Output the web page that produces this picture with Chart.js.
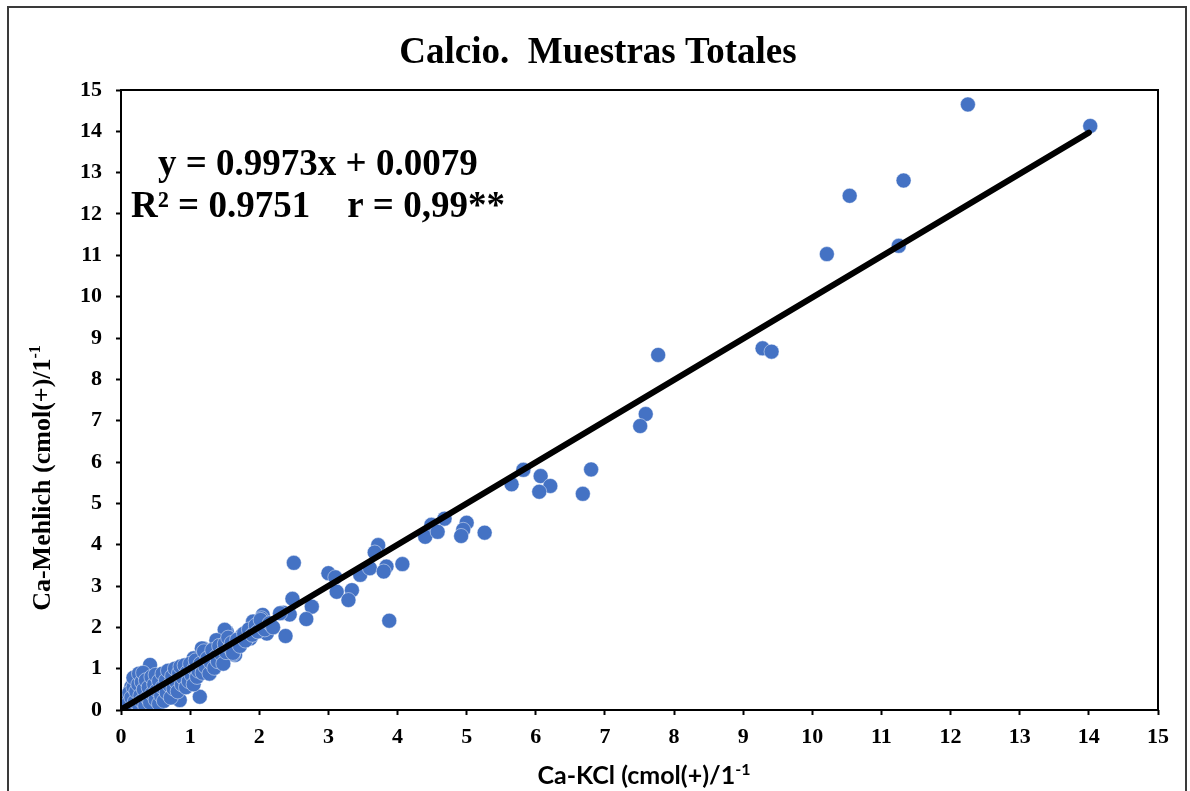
<!DOCTYPE html>
<html>
<head>
<meta charset="utf-8">
<title>Calcio. Muestras Totales</title>
<script src="https://cdn.jsdelivr.net/npm/chart.js@4.4.1/dist/chart.umd.min.js"></script>
<style>
    html, body { margin: 0; padding: 0; background: #ffffff; }
    #chart { display: block; }
</style>
</head>
<body>
<canvas id="chart" width="1190" height="791"></canvas>
<script>
// ====================================
// DATA
// ====================================

// Ca-KCl, cmol(+)/l  (x)
const kclValues = [
    // large values
    12.25, 14.02, 11.32, 10.54, 10.21, 11.25, 9.28, 9.41, 7.77, 7.59, 7.51,
    6.80, 6.68, 5.82, 5.65, 6.07, 6.21, 6.05,
    4.68, 4.49, 4.40, 4.58, 5.00, 4.95, 4.92, 5.26,
    2.50, 3.72, 3.67, 3.00, 3.10, 3.12, 3.34, 3.29, 3.46, 3.60, 3.84, 3.80, 4.07, 3.88,
    2.48, 2.76, 2.68, 2.35, 2.44, 2.30, 2.05, 2.11, 2.38, 2.03, 1.91, 1.87, 1.84, 1.75,
    1.53, 1.50, 1.46, 1.38, 1.65, 1.62, 1.19, 1.17, 1.05, 0.42, 1.14, 0.85,
    // dense cluster near the origin
    0.03, 0.25, 0.15, 0.05, 0.08, 0.10, 0.12, 0.15, 0.18, 0.18, 0.20, 0.22, 0.25, 0.26,
    0.26, 0.28, 0.30, 0.30, 0.32, 0.33, 0.35, 0.36, 0.38, 0.40, 0.42, 0.44, 0.45, 0.48,
    0.50, 0.50, 0.52, 0.55, 0.55, 0.58, 0.60, 0.60, 0.62, 0.65, 0.66, 0.68, 0.70, 0.72,
    0.74, 0.76, 0.78, 0.80, 0.82, 0.84, 0.86, 0.88, 0.90, 0.92, 0.94, 0.96, 0.98, 1.00,
    1.02, 1.05, 1.06, 1.08, 1.10, 1.12, 1.15, 1.18, 1.20, 1.22, 1.25, 1.28, 1.30, 1.32,
    1.35, 1.38, 1.40, 1.42, 1.45, 1.48, 1.50, 1.52, 1.55, 1.58, 1.60, 1.62, 1.68, 1.72,
    1.78, 1.80, 1.85, 1.90, 1.95, 1.98, 2.02, 2.08, 2.15, 2.20
];

// Ca-Mehlich, cmol(+)/l  (y)
const mehlichValues = [
    14.65, 14.13, 12.81, 12.44, 11.03, 11.23, 8.75, 8.67, 8.59, 7.16, 6.87,
    5.82, 5.23, 5.81, 5.46, 5.66, 5.42, 5.28,
    4.63, 4.48, 4.19, 4.31, 4.53, 4.36, 4.21, 4.29,
    3.56, 3.99, 3.81, 3.31, 3.21, 2.86, 2.90, 2.66, 3.27, 3.43, 3.47, 3.35, 3.53, 2.16,
    2.69, 2.50, 2.20, 2.35, 2.31, 2.34, 2.30, 1.85, 1.79, 2.22, 2.14, 1.73, 1.77, 1.81,
    1.89, 1.94, 1.65, 1.69, 1.33, 1.35, 1.49, 1.49, 1.25, 1.09, 0.32, 0.24,
    0.20, 0.77, 0.56, 0.10, 0.28, 0.15, 0.42, 0.30, 0.55, 0.78, 0.20, 0.45, 0.62, 0.12,
    0.88, 0.35, 0.68, 0.22, 0.90, 0.50, 0.10, 0.72, 0.30, 0.55, 0.18, 0.80, 0.40, 0.62,
    0.25, 0.85, 0.48, 0.15, 0.70, 0.35, 0.88, 0.55, 0.22, 0.72, 0.42, 0.95, 0.60, 0.30,
    0.82, 0.52, 1.00, 0.68, 0.45, 0.90, 1.05, 0.62, 0.78, 1.08, 0.55, 0.92, 0.70, 1.12,
    0.85, 0.62, 1.00, 1.20, 0.80, 0.95, 1.12, 0.90, 1.42, 1.05, 1.25, 0.88, 1.15, 1.45,
    1.02, 1.30, 1.18, 1.55, 1.35, 1.12, 1.60, 1.40, 1.75, 1.50, 1.62, 1.38, 1.70, 1.55,
    1.85, 1.68, 1.95, 1.82, 2.05, 1.90, 2.18, 1.95, 2.10, 2.00
];

// Linear trend line y = 0.9973x + 0.0079, end points as drawn
const trendX = [0.0, 14.0];
const trendY = [0.01, 13.97];

// Axis range and labels
const axisMin = 0;
const axisMax = 15;
const chartTitle = 'Calcio.  Muestras Totales';
const equationLine = 'y = 0.9973x + 0.0079';
const statsLine = 'R\u00B2 = 0.9751    r = 0,99**';
const xTitle = ['Ca-KCl (cmol(+)/1', '-1'];
const yTitle = ['Ca-Mehlich (cmol(+)/1', '-1'];

const SERIF = '"Liberation Serif", "Times New Roman", serif';
const SANS = 'Lato, "Open Sans", sans-serif';

// ====================================
// HELPERS
// ====================================

// Draw text with a small raised suffix, centred on x
function drawSupText(ctx, parts, x, y, size, family) {
    const supSize = Math.round(size * 0.62);
    ctx.font = 'bold ' + size + 'px ' + family;
    const w1 = ctx.measureText(parts[0]).width;
    ctx.font = 'bold ' + supSize + 'px ' + family;
    const w2 = ctx.measureText(parts[1]).width;
    const start = x - (w1 + w2) / 2;
    ctx.textAlign = 'left';
    ctx.textBaseline = 'alphabetic';
    ctx.font = 'bold ' + size + 'px ' + family;
    ctx.fillText(parts[0], start, y);
    ctx.font = 'bold ' + supSize + 'px ' + family;
    ctx.fillText(parts[1], start + w1, y - size * 0.38);
}

// Frame, plot box, title, equation and axis titles
const decorPlugin = {
    id: 'decor',
    afterDraw(chart) {
        const ctx = chart.ctx;
        const area = chart.chartArea;
        ctx.save();

        // outer frame
        ctx.strokeStyle = '#3a3a3a';
        ctx.lineWidth = 2;
        ctx.strokeRect(8, 7, 1178, 900);

        // plot area box
        ctx.strokeStyle = '#000000';
        ctx.lineWidth = 2;
        ctx.strokeRect(area.left, area.top, area.right - area.left, area.bottom - area.top);

        ctx.fillStyle = '#000000';

        // title
        ctx.font = 'bold 37px ' + SERIF;
        ctx.textAlign = 'center';
        ctx.textBaseline = 'alphabetic';
        ctx.fillText(chartTitle, 598, 63);

        // regression text
        ctx.font = 'bold 37px ' + SERIF;
        ctx.textAlign = 'left';
        ctx.fillText(equationLine, 158, 175);
        ctx.fillText(statsLine, 131, 217);

        // x axis title
        drawSupText(ctx, xTitle, 644, 784, 25, SANS);

        // y axis title (rotated)
        ctx.save();
        ctx.translate(50, 478);
        ctx.rotate(-Math.PI / 2);
        drawSupText(ctx, yTitle, 0, 0, 26, SERIF);
        ctx.restore();

        ctx.restore();
    }
};

// ====================================
// CHART
// ====================================

const scatterPoints = kclValues.map((x, i) => ({ x: x, y: mehlichValues[i] }));
const trendPoints = trendX.map((x, i) => ({ x: x, y: trendY[i] }));

const tickFont = { family: SERIF, size: 22, weight: 'bold' };

new Chart(document.getElementById('chart'), {
    type: 'scatter',
    data: {
        datasets: [
            {
                type: 'line',
                label: 'Lineal',
                data: trendPoints,
                borderColor: '#000000',
                borderWidth: 6,
                borderCapStyle: 'round',
                pointRadius: 0,
                fill: false,
                order: 0
            },
            {
                label: 'Muestras',
                data: scatterPoints,
                backgroundColor: '#4472C4',
                borderColor: 'rgba(255, 255, 255, 0.45)',
                borderWidth: 1,
                pointRadius: 7.5,
                order: 1
            }
        ]
    },
    options: {
        responsive: false,
        devicePixelRatio: 1,
        animation: false,
        layout: {
            padding: { left: 60, right: 32, top: 90, bottom: 41 }
        },
        plugins: {
            legend: { display: false },
            tooltip: { enabled: false },
            title: { display: false }
        },
        scales: {
            x: {
                type: 'linear',
                min: axisMin,
                max: axisMax,
                afterFit: (scale) => { scale.height = 40; },
                ticks: {
                    stepSize: 1,
                    color: '#000000',
                    font: tickFont,
                    padding: 9,
                    maxRotation: 0
                },
                grid: {
                    drawOnChartArea: false,
                    drawTicks: true,
                    tickLength: 5,
                    tickColor: '#000000',
                    tickWidth: 2
                },
                border: { display: false }
            },
            y: {
                type: 'linear',
                min: axisMin,
                max: axisMax,
                afterFit: (scale) => { scale.width = 61; },
                ticks: {
                    stepSize: 1,
                    color: '#000000',
                    font: tickFont,
                    padding: 14
                },
                grid: {
                    drawOnChartArea: false,
                    drawTicks: true,
                    tickLength: 5,
                    tickColor: '#000000',
                    tickWidth: 2
                },
                border: { display: false }
            }
        }
    },
    plugins: [decorPlugin]
});
</script>
</body>
</html>
